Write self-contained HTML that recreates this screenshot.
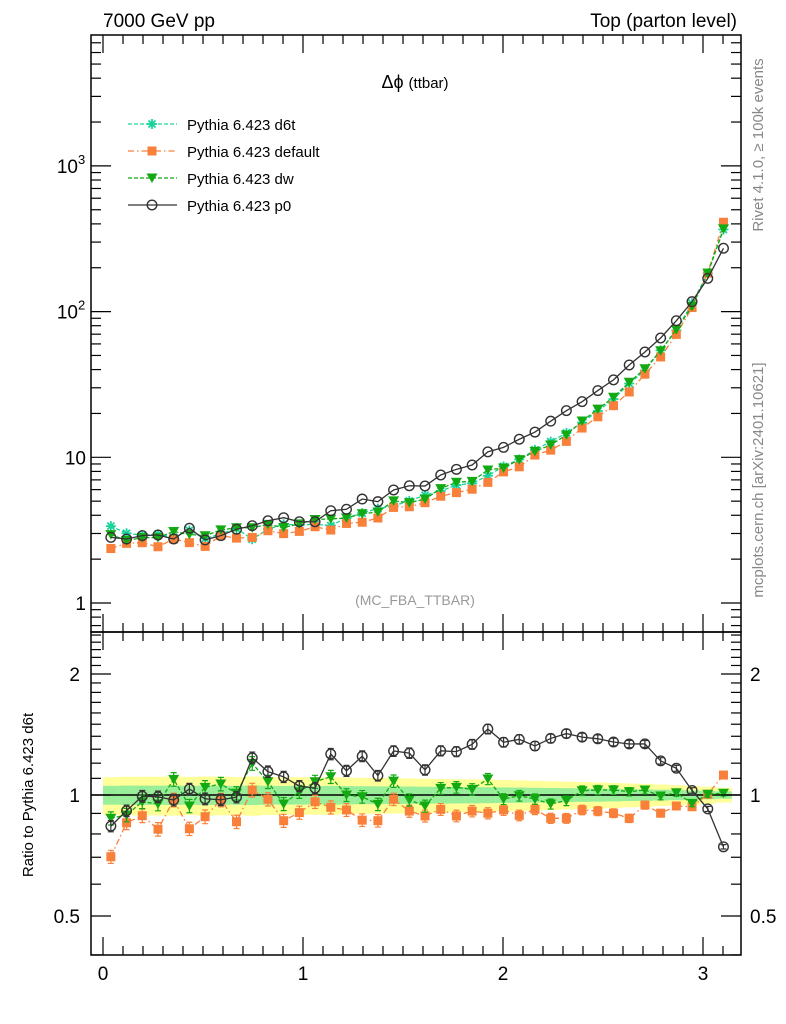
<!DOCTYPE html>
<html><head><meta charset="utf-8"><style>
body{margin:0;background:#fff;}
svg{display:block;font-family:"Liberation Sans",sans-serif;}
</style></head><body>
<svg id="chart" width="786" height="1024" viewBox="0 0 786 1024" xmlns="http://www.w3.org/2000/svg">
<text x="103" y="27" font-size="19">7000 GeV pp</text>
<text x="737" y="27" font-size="19" text-anchor="end">Top (parton level)</text>
<text x="415" y="88" font-size="18" text-anchor="middle">Δϕ <tspan font-size="15">(ttbar)</tspan></text>
<text x="415" y="605" font-size="14" fill="#999" text-anchor="middle">(MC_FBA_TTBAR)</text>
<text transform="translate(763,145) rotate(-90)" font-size="15" fill="#888" text-anchor="middle">Rivet 4.1.0, ≥ 100k events</text>
<text transform="translate(763,480) rotate(-90)" font-size="15" fill="#888" text-anchor="middle">mcplots.cern.ch [arXiv:2401.10621]</text>
<text transform="translate(33,795) rotate(-90)" font-size="15" text-anchor="middle">Ratio to Pythia 6.423 d6t</text>
<g id="g"></g>
</svg>
<script>
const d6tValues=[3.37,3.01,2.92,2.96,2.83,3.15,2.77,2.98,3.25,2.74,3.21,3.47,3.43,3.47,3.40,3.83,4.14,4.44,4.64,5.02,5.50,5.87,6.45,6.62,7.47,8.65,9.67,11.25,12.8,14.7,17.3,20.8,25.1,32.1,39.4,54.2,74.3,114,183,366];
const p0Values=[2.82,2.75,2.90,2.93,2.75,3.26,2.71,2.90,3.21,3.39,3.67,3.85,3.61,3.61,4.30,4.40,5.17,4.96,5.97,6.38,6.35,7.56,8.27,8.85,10.9,11.7,13.3,14.9,17.7,20.9,24.1,28.7,34.0,43.0,52.8,65.9,86.6,117,169,272];
const defaultRatio=[0.702,0.853,0.888,0.822,0.972,0.824,0.883,0.972,0.858,1.029,0.976,0.863,0.904,0.962,0.932,0.918,0.866,0.863,0.976,0.912,0.887,0.921,0.887,0.912,0.901,0.918,0.890,0.921,0.875,0.875,0.918,0.912,0.901,0.875,0.944,0.901,0.939,0.935,1.004,1.121];
const dwRatio=[0.875,0.892,0.962,0.950,1.094,0.939,1.045,1.065,1.01,1.199,1.079,0.950,1.019,1.079,1.110,1,0.990,0.948,1.083,0.972,0.939,1.039,1.045,1.033,1.096,0.977,0.996,0.977,0.950,0.968,1.025,1.029,1.029,1.019,1.029,0.994,1.013,0.953,1.004,1.01];
const xTicks=[0,1,2,3];
const mainYTicks=[{v:1,b:"1",s:""},{v:10,b:"10",s:""},{v:100,b:"10",s:"2"},{v:1000,b:"10",s:"3"}];
const ratioYTicks=[{v:0.5,l:"0.5"},{v:1,l:"1"},{v:2,l:"2"}];

const NB=d6tValues.length, BW=Math.PI/NB;
const L=91,R=741,MT=35,MB=632,RB=955;
const X=v=>103+200*v;
const YM=v=>603-145.7*Math.log10(v);
const YR=v=>795-121*Math.log2(v);
const g=document.getElementById('g');
const NS='http://www.w3.org/2000/svg';
function mk(t,a,p){const e=document.createElementNS(NS,t);for(const k in a)e.setAttribute(k,a[k]);(p||g).appendChild(e);return e;}

const defaultValues=d6tValues.map((v,i)=>v*defaultRatio[i]);
const dwValues=d6tValues.map((v,i)=>v*dwRatio[i]);
const p0Ratio=p0Values.map((v,i)=>v/d6tValues[i]);
const relErr=d6tValues.map(v=>0.055*Math.pow(3/v,0.2));

const bands=mk('g',{});


for(let i=0;i<NB;i++){
  const x0=X(i*BW),x1=X((i+1)*BW),e=relErr[i];
  const y=mk('rect',{x:x0,y:YR(1+2*e),width:x1-x0+0.5,height:YR(1-2*e)-YR(1+2*e),fill:'#ffff99'},bands);
  
  
  const gr=mk('rect',{x:x0,y:YR(1+e),width:x1-x0+0.5,height:YR(1-e)-YR(1+e),fill:'#99ee99'},bands);
  
  
}
const ref=mk('line',{x1:L,x2:R,y1:YR(1),y2:YR(1),stroke:'#000','stroke-width':1.5});



function marker(type,x,y,col,p){
  let e;
  if(type==='star'){e=mk('g',{},p);for(let a=0;a<4;a++){const an=a*Math.PI/4;mk('line',{x1:x-5*Math.cos(an),y1:y-5*Math.sin(an),x2:x+5*Math.cos(an),y2:y+5*Math.sin(an),stroke:col,'stroke-width':1.8},e);}}
  else if(type==='square')e=mk('rect',{x:x-4.5,y:y-4.5,width:9,height:9,fill:col},p);
  else if(type==='tri')e=mk('path',{d:`M${x-5.5},${y-4.5}L${x+5.5},${y-4.5}L${x},${y+5}Z`,fill:col},p);
  else e=mk('circle',{cx:x,cy:y,r:4.8,fill:'none',stroke:col,'stroke-width':1.4},p);
  return e;
}
function series(name,vals,ratios,type,col,dash,errScale,showRatio){
  const sg=mk('g',{});
  
  
  const pm=vals.map((v,i)=>[X((i+0.5)*BW),YM(v)]);
  const pr=ratios.map((v,i)=>[X((i+0.5)*BW),YR(v)]);
  const lm=mk('polyline',{points:pm.join(' '),fill:'none',stroke:col,'stroke-width':1.3,'stroke-dasharray':dash},sg);
  
  
  if(showRatio){
    const lr=mk('polyline',{points:pr.join(' '),fill:'none',stroke:col,'stroke-width':1.3,'stroke-dasharray':dash},sg);
    
    
  }
  for(let i=0;i<NB;i++){
    const m1=marker(type,pm[i][0],pm[i][1],col,sg);
    
    
    if(!showRatio)continue;
    const e=relErr[i]*errScale*ratios[i];
    const x=pr[i][0],y1=YR(ratios[i]+e),y2=YR(ratios[i]-e);
    const eb=mk('path',{d:`M${x},${y1}V${y2}M${x-3},${y1}H${x+3}M${x-3},${y2}H${x+3}`,stroke:col,'stroke-width':1.2,fill:'none'},sg);
    
    
    const m2=marker(type,pr[i][0],pr[i][1],col,sg);
    
    
  }
}
series('d6t',d6tValues,d6tValues.map(()=>1),'star','#1ad39a','4,2',0,false);
series('default',defaultValues,defaultRatio,'square','#f8803a','6,3,1.5,3',0.7,true);
series('dw',dwValues,dwRatio,'tri','#12a912','4,2',0.7,true);
series('p0',p0Values,p0Ratio,'circle','#333','',0.6,true);

const f1=mk('rect',{x:L,y:MT,width:R-L,height:MB-MT,fill:'none',stroke:'#000','stroke-width':1.5});


const f2=mk('rect',{x:L,y:MB,width:R-L,height:RB-MB,fill:'none',stroke:'#000','stroke-width':1.5});



const ax=mk('g',{stroke:'#000','stroke-width':1.2});


for(let d=-1;d<4;d++)for(let k=1;k<10;k++){
  const v=k*Math.pow(10,d),y=YM(v);if(y<MT||y>MB)continue;
  const len=k===1?20:10;
  mk('line',{x1:L,x2:L+len,y1:y,y2:y},ax);mk('line',{x1:R,x2:R-len,y1:y,y2:y},ax);
}
for(let v=0.4;v<2.6;v+=0.1){
  const y=YR(v);if(y<MB||y>RB)continue;
  const maj=[0.5,1,2].some(m=>Math.abs(m-v)<1e-6);const len=maj?20:10;
  mk('line',{x1:L,x2:L+len,y1:y,y2:y},ax);mk('line',{x1:R,x2:R-len,y1:y,y2:y},ax);
}
for(let j=0;j<=31;j++){
  const v=j/10,x=X(v);if(x<L||x>R)continue;
  const maj=j%10===0;const len=maj?18:9;
  [MT,MB].forEach(y0=>mk('line',{x1:x,x2:x,y1:y0,y2:y0+len},ax));
  [MB,RB].forEach(y0=>mk('line',{x1:x,x2:x,y1:y0,y2:y0-len},ax));
}
xTicks.forEach(v=>{const t=mk('text',{x:X(v),y:980,'font-size':19,'text-anchor':'middle'});t.textContent=v;

});
mainYTicks.forEach(o=>{
  const t=mk('text',{x:o.s?78:86,y:YM(o.v)+7,'font-size':19,'text-anchor':'end'});t.textContent=o.b;
  
  
  if(o.s){const s=mk('text',{x:78,y:YM(o.v)-2,'font-size':13});s.textContent=o.s;
  
  }
});
ratioYTicks.forEach(o=>{
  const t=mk('text',{x:80,y:YR(o.v)+7,'font-size':19,'text-anchor':'end'});t.textContent=o.l;
  
  
  const t2=mk('text',{x:750,y:YR(o.v)+7,'font-size':19});t2.textContent=o.l;
  
  
});

const leg=[['Pythia 6.423 d6t','star','#1ad39a','4,2'],['Pythia 6.423 default','square','#f8803a','6,3,1.5,3'],['Pythia 6.423 dw','tri','#12a912','4,2'],['Pythia 6.423 p0','circle','#333','']];
leg.forEach((o,i)=>{
  const y=124+27*i;
  const lg=mk('g',{});
  
  
  mk('line',{x1:128,x2:177,y1:y,y2:y,stroke:o[2],'stroke-width':1.3,'stroke-dasharray':o[3]},lg);
  marker(o[1],152,y,o[2],lg);
  const t=mk('text',{x:187,y:y+6,'font-size':15},lg);t.textContent=o[0];
});
</script>
</body></html>
